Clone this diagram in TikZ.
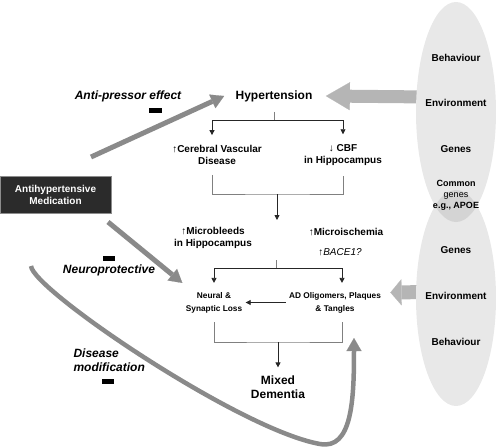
\documentclass[tikz,border=0pt]{standalone}
\usepackage{fontspec}
\setmainfont{Liberation Sans}
\usetikzlibrary{calc,arrows.meta,positioning}
\definecolor{elgray}{HTML}{E8E8E8}
\definecolor{lensgray}{HTML}{D4D4D4}
\definecolor{druggray}{HTML}{8A8A8A}
\definecolor{envgray}{HTML}{B5B5B5}
\definecolor{boxgray}{HTML}{2B2B2B}

\begin{document}
\begin{tikzpicture}[x=1pt,y=-1pt,
		lbl/.style={align=center,font=\bfseries\fontsize{10}{12}\selectfont,inner ysep=10pt},
		small/.style={align=center,font=\bfseries\fontsize{8.3}{13}\selectfont,inner ysep=9pt},
		eltext/.style={align=center,font=\bfseries\fontsize{10}{11}\selectfont},
		eff/.style={font=\bfseries\itshape\fontsize{12}{14}\selectfont},
		tree/.style={black!50,line width=0.8pt},
		arr/.style={black!85,line width=0.8pt,-{Triangle[length=5pt,width=5pt]}},
		drug/.style={druggray,line width=5pt,-{Triangle[length=13pt,width=15pt,line width=0.1pt]}},
		env/.style={envgray,line width=13pt,-{Triangle[length=24pt,width=28pt,line width=0.1pt]}}]
		\useasboundingbox (0,0) rectangle (499,447);
		% middle column
		\node[font=\bfseries\fontsize{12}{14}\selectfont,inner ysep=10pt] (hyp) at (274,96) {Hypertension};
		\node[lbl] (cvd) at (217,155) {↑Cerebral Vascular\\Disease};
		\node[lbl] (cbf) at (343,155) {↓ CBF\\in Hippocampus};
		\node[lbl] (mbl) at (213,238) {↑Microbleeds\\in Hippocampus};
		\node[lbl,inner ysep=2pt] (mis) at (346,232) {↑Microischemia};
		\node[font=\itshape\fontsize{10}{12}\selectfont,inner sep=2pt] (bace) at (340,252) {↑BACE1?};
		\node[small] (nsl) at (214,302.5) {Neural \&\\Synaptic Loss};
		\node[small] (adp) at (335,302.5) {AD Oligomers, Plaques\\\& Tangles};
		\node[font=\bfseries\fontsize{12}{14}\selectfont,align=center,inner ysep=8pt] (mix) at (278,387) {Mixed\\Dementia};
		% hypertension tree
		\coordinate (t1) at (274,120);
		\draw[tree] (hyp.south) -- (t1);
		\draw[arr] (t1) -| ([xshift=-5pt]cvd.north);
		\draw[arr] (t1) -| (cbf.north);
		\coordinate (b1) at (277,194);
		\coordinate (e1) at (277,220);
		\draw[tree] ([xshift=-5pt]cvd.south) |- (b1) -| (cbf.south);
		\draw[arr] (b1) -- (e1);
		% second tree
		\coordinate (t2a) at (276,260);
		\coordinate (t2) at (276,268);
		\draw[tree] (t2a) -- (t2);
		\draw[arr] (t2) -| (nsl.north);
		\draw[arr] (t2) -| ([xshift=7pt]adp.north);
		\draw[arr] (adp.west) -- (nsl.east);
		\coordinate (b3) at (278,342);
		\draw[tree] (nsl.south) |- (b3) -| ([xshift=7pt]adp.south);
		\draw[arr] (b3) -- (mix.north);
		% medication and its effects
		\node[fill=boxgray,text=white,draw=black!45,minimum width=111pt,minimum height=37pt,
		align=center,font=\bfseries\fontsize{10}{12}\selectfont] (med) at (55.5,194.5) {Antihypertensive\\Medication};
		\coordinate (ap0) at (91,157);
		\draw[drug] (ap0) -- ([xshift=-8pt]hyp.west);
		\node[eff] (apl) at (128,96) {Anti-pressor effect};
		\fill (149,108) rectangle (162,113);
		\coordinate (np0) at (108,222);
		\draw[drug] (np0) -- (nsl.north west);
		\node[eff] (npl) at (109,270) {Neuroprotective};
		\fill (103,256) rectangle (115,261);
		\coordinate (dm0) at (31,266);
		\coordinate (dm1) at (320,444);
		\coordinate (dm2) at (354,338);
		\draw[drug,line width=4.5pt] (dm0) .. controls (33,290) and (240,430) .. (dm1)
		.. controls (352,450) and (354,400) .. (dm2);
		\node[eff,align=left,anchor=west] (dml) at (70,360) {Disease\\modification};
		\fill (102,379) rectangle (114,384);
		% risk factors
		\coordinate (envtop) at (430,97);
		\draw[env] (envtop) -- ([xshift=10pt]hyp.east);
		\coordinate (envbot) at (430,292);
		\draw[env,line width=14pt,-{Triangle[length=11pt,width=26pt,line width=0.1pt]}] (envbot) -- ([xshift=6pt,yshift=10pt]adp.east);
		\fill[elgray] (456,112) ellipse [x radius=40pt,y radius=110pt];
		\fill[elgray] (456,298) ellipse [x radius=40pt,y radius=108pt];
		\begin{scope}
			\clip (456,112) ellipse [x radius=40pt,y radius=110pt];
			\fill[lensgray] (456,298) ellipse [x radius=40pt,y radius=108pt];
		\end{scope}
		\node[eltext] (beh1) at (456,58) {Behaviour};
		\node[eltext] (env1) at (456,103) {Environment};
		\node[eltext] (gen1) at (456,149) {Genes};
		\node[eltext,font=\bfseries\fontsize{9}{11}\selectfont] (com) at (456,195) {Common\\{\mdseries genes}\\e.g., APOE};
		\node[eltext] (gen2) at (456,250) {Genes};
		\node[eltext] (env2) at (456,296) {Environment};
		\node[eltext] (beh2) at (456,342) {Behaviour};
	\end{tikzpicture}
\end{document}
